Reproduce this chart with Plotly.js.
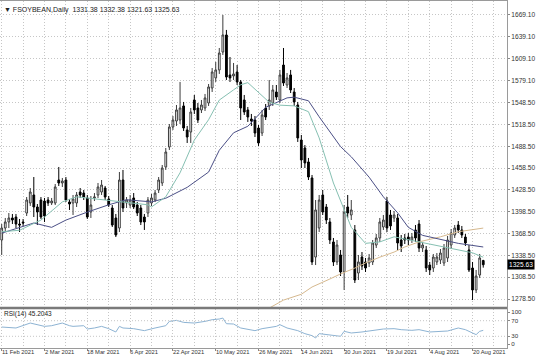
<!DOCTYPE html>
<html>
<head>
<meta charset="utf-8">
<script src="https://cdn.plot.ly/plotly-3.0.1.min.js"></script>
<style>
html,body{margin:0;padding:0;background:#fff;}
#chart{width:536px;height:357px;}
</style>
</head>
<body>
<div id="chart"></div>
<script>
// ---- data (daily bars, 11 Feb 2021 -> late Aug 2021) ----
const openP = [
1359.6,1376.1,1384.4,1389.9,1391.2,1381.6,1384.4,1396.7,1410.5,1421.5,
1405.0,1414.6,1413.2,1414.6,1410.5,1410.5,1442.1,1438.0,1442.1,1411.9,
1410.5,1410.5,1425.6,1424.2,1417.4,1398.1,1417.4,1421.5,1425.6,1431.1,
1416.0,1403.6,1389.9,1376.1,1442.1,1410.5,1407.7,1417.4,1407.7,1403.6,
1391.2,1396.7,1410.5,1414.6,1428.4,1438.0,1460.0,1487.5,1515.0,1523.2,
1524.6,1543.9,1510.9,1508.1,1552.1,1541.1,1538.4,1541.1,1548.0,1568.6,
1582.4,1593.4,1618.1,1641.5,1586.5,1585.1,1590.6,1576.9,1552.1,1538.4,
1526.0,1524.6,1513.6,1506.7,1541.1,1543.9,1548.0,1563.1,1552.1,1600.2,
1572.7,1586.5,1563.1,1545.2,1497.1,1486.1,1466.9,1444.9,1336.2,1376.1,
1421.5,1405.0,1384.4,1356.9,1329.4,1339.0,1315.6,1405.0,1394.0,1373.4,
1314.2,1336.2,1329.4,1328.0,1329.4,1352.7,1362.4,
1377.5,1413.2,1394.0,1389.9,1389.9,1359.6,1362.4,1363.7,1359.6,1373.4,
1381.6,1348.6,1345.9,1325.2,1321.1,1329.4,1332.1,1328.0,
1334.9,1352.7,1366.5,1380.2,1373.4,1363.7,1345.9,1321.1,1290.9,1311.5,1331.38
];
const highP = [
1381.6,1389.9,1396.7,1395.4,1395.4,1388.5,1388.5,1418.7,1431.1,1446.2,
1409.1,1418.7,1417.4,1418.7,1417.4,1436.6,1460.0,1444.9,1446.2,1416.0,
1421.5,1425.6,1431.1,1428.4,1421.5,1420.1,1424.2,1438.0,1442.1,1433.9,
1420.1,1407.7,1395.4,1453.1,1455.9,1418.7,1421.5,1424.2,1411.9,1407.7,
1395.4,1418.7,1422.9,1428.4,1446.2,1462.7,1486.1,1519.1,1530.1,1545.2,
1576.9,1549.4,1516.4,1541.1,1559.0,1548.0,1552.1,1560.4,1574.1,1596.1,
1604.4,1623.6,1669.0,1648.4,1611.2,1603.0,1600.2,1579.6,1559.0,1542.5,
1532.9,1530.1,1517.7,1538.4,1546.6,1579.6,1572.7,1572.7,1593.4,1623.6,
1589.2,1593.4,1568.6,1549.4,1504.0,1490.2,1472.4,1449.0,1414.6,1421.5,
1428.4,1409.1,1389.9,1362.4,1359.6,1345.9,1407.7,1421.5,1414.6,1380.2,
1339.0,1343.1,1334.9,1340.4,1359.6,1367.9,1389.9,
1394.0,1418.7,1400.9,1399.5,1395.4,1366.5,1367.9,1369.2,1369.2,1380.2,
1387.1,1356.9,1351.4,1329.4,1340.4,1341.7,1347.2,1354.1,
1365.1,1374.7,1380.2,1385.7,1378.9,1367.9,1352.7,1329.4,1318.4,1340.4,1332.38
];
const lowP = [
1339.0,1370.6,1376.1,1381.6,1376.1,1370.6,1378.9,1392.6,1406.4,1391.2,
1380.2,1388.5,1384.4,1406.4,1407.7,1407.7,1433.9,1432.5,1411.9,1400.9,
1394.0,1405.0,1417.4,1414.6,1388.5,1389.9,1413.2,1417.4,1421.5,1414.6,
1405.0,1377.5,1363.7,1370.6,1398.1,1403.6,1403.6,1402.2,1392.6,1380.2,
1373.4,1391.2,1406.4,1411.9,1424.2,1433.9,1455.9,1483.4,1510.9,1516.4,
1519.1,1509.5,1493.0,1493.0,1532.9,1520.5,1534.2,1537.0,1543.9,1563.1,
1576.9,1587.9,1614.0,1579.6,1576.9,1579.6,1572.7,1524.6,1531.5,1521.9,
1516.4,1501.2,1488.9,1502.6,1524.6,1538.4,1543.9,1552.1,1548.0,1571.4,
1568.6,1561.7,1543.9,1494.4,1458.6,1458.6,1442.1,1325.2,1325.2,1370.6,
1394.0,1381.6,1354.1,1323.9,1325.2,1310.1,1290.9,1389.9,1387.1,1300.5,
1304.6,1318.4,1315.6,1322.5,1325.2,1348.6,1356.9,
1373.4,1370.6,1373.4,1384.4,1345.9,1343.1,1354.1,1352.7,1355.5,1356.9,
1343.1,1343.1,1315.6,1311.5,1315.6,1325.2,1326.6,1323.9,
1329.4,1347.2,1362.4,1369.2,1362.4,1351.4,1315.6,1277.1,1286.7,1307.4,1321.63
];
const closeP = [
1376.1,1384.4,1389.9,1387.1,1381.6,1380.2,1383.0,1414.6,1425.6,1405.0,
1398.1,1391.2,1392.6,1410.5,1413.2,1432.5,1438.0,1440.7,1414.6,1409.1,
1416.0,1421.5,1421.5,1418.7,1391.2,1407.7,1418.7,1432.5,1435.2,1418.7,
1407.7,1380.2,1366.5,1442.1,1403.6,1414.6,1414.6,1405.0,1396.7,1384.4,
1384.4,1414.6,1417.4,1424.2,1442.1,1458.6,1480.6,1515.0,1524.6,1538.4,
1541.1,1513.6,1501.2,1535.6,1538.4,1524.6,1545.2,1554.9,1570.0,1590.6,
1593.4,1616.7,1641.5,1583.7,1582.4,1587.9,1576.9,1541.1,1535.6,1528.7,
1523.2,1506.7,1493.0,1531.5,1528.7,1552.1,1565.9,1556.2,1586.5,1575.5,
1582.4,1565.9,1549.4,1499.9,1469.6,1465.5,1446.2,1329.4,1400.9,1414.6,
1398.1,1387.1,1359.6,1329.4,1352.7,1315.6,1398.1,1396.7,1400.9,1304.6,
1329.4,1323.9,1321.1,1334.9,1355.5,1362.4,1384.4,
1387.1,1376.1,1378.9,1394.0,1355.5,1351.4,1359.6,1359.6,1363.7,1362.4,
1348.6,1352.7,1321.1,1318.4,1336.2,1336.2,1341.7,1348.6,
1359.6,1369.2,1376.1,1373.4,1366.5,1355.5,1318.4,1290.9,1310.1,1334.9,1325.63
];

// fast moving average (light teal), read at sample bars
const maFastBar = [0,5,11,17,21,28,33,41,42,46,50,54,58,61,65,67,69,72,75,78,82,86,89,93,96,98,102,106,110,114,117,124,128,132,135];
const maFastVal = [1371,1373,1387,1412,1419,1415,1412,1408,1405,1419,1452,1497,1525,1552,1566,1573,1576,1563,1549,1545,1544,1536,1500,1438,1401,1377,1355,1357,1364,1360,1357,1349,1346,1342,1336];
// slower moving average (navy)
const maSlowBar = [0,9,14,18,24,30,35,42,46,52,58,61,65,69,74,80,82,86,89,95,98,103,107,111,114,118,128,135];
const maSlowVal = [1369,1383,1377,1387,1398,1408,1415,1412,1417,1432,1453,1483,1507,1516,1542,1555,1556,1551,1529,1488,1474,1446,1419,1397,1377,1366,1355,1350];
// long moving average (tan)
const maLongBar = [75,79,84,87,92,95,99,102,106,110,113,117,123,128,135];
const maLongVal = [1266,1277,1285,1295,1306,1313,1321,1328,1336,1343,1350,1357,1364,1371,1376];

// RSI(14)
const rsiBar = [0,4,8,10,12,14,16,17,19,20,23,24,26,28,30,32,33,34,37,40,43,46,47,49,51,54,57,59,61,62,63,65,67,70,71,73,75,77,78,80,83,85,87,88,89,92,95,96,98,101,104,107,110,112,115,117,120,122,125,128,130,132,133,134,135];
const rsiVal = [53.8,51.3,64.0,59.8,55.5,57.2,62.3,64.0,57.2,55.5,57.2,48.7,51.3,55.5,49.6,41.1,55.5,51.3,49.6,44.5,51.3,57.2,68.3,70.9,65.7,64.0,68.3,72.6,74.3,76.8,62.3,61.5,51.3,47.0,44.5,49.6,53.0,55.5,59.8,51.3,44.5,36.8,31.7,25.7,36.8,34.3,30.0,42.8,38.5,41.1,45.3,48.7,49.6,47.0,45.3,47.0,41.1,42.8,43.6,51.3,47.0,38.5,34.3,42.8,45.2043];
const rsiLevels = [70, 30];
const rsiScale = [100, 70, 30, 0];

// axis labels
const dateLabels = ['11 Feb 2021','2 Mar 2021','18 Mar 2021','6 Apr 2021','22 Apr 2021','10 May 2021','26 May 2021','14 Jun 2021','30 Jun 2021','19 Jul 2021','4 Aug 2021','20 Aug 2021'];
const barsPerLabel = 12;
const priceTicks = [1669.10,1639.10,1609.10,1579.10,1548.50,1518.50,1488.50,1458.50,1428.50,1398.50,1368.50,1338.50,1308.50,1278.50];
const symbolName = 'FSOYBEAN,Daily';

// ---- build ----
const bars = closeP.map((_, i) => i);
const last = closeP.length - 1;
const labelBars = dateLabels.map((_, k) => k * barsPerLabel);
const midBars = labelBars.map(b => b + barsPerLabel / 2);
const xRange = [-0.477, 141.66];

const FONT = 'Liberation Sans, Arial, sans-serif';
const GRID = '#c6c6c6';
const DOT = '1px,2px';
const FRAME = '#9a9a9a';

const traces = [
  {
    type: 'candlestick', x: bars, open: openP, high: highP, low: lowP, close: closeP,
    xaxis: 'x', yaxis: 'y', whiskerwidth: 0, hoverinfo: 'skip',
    increasing: {line: {color: '#3c3c3c', width: 1}, fillcolor: '#ffffff'},
    decreasing: {line: {color: '#000000', width: 1}, fillcolor: '#000000'}
  },
  {type: 'scatter', mode: 'lines', x: maLongBar, y: maLongVal, xaxis: 'x', yaxis: 'y',
   line: {color: '#d6b98f', width: 1}, hoverinfo: 'skip'},
  {type: 'scatter', mode: 'lines', x: maSlowBar, y: maSlowVal, xaxis: 'x', yaxis: 'y',
   line: {color: '#4b4f86', width: 1}, hoverinfo: 'skip'},
  {type: 'scatter', mode: 'lines', x: maFastBar, y: maFastVal, xaxis: 'x', yaxis: 'y',
   line: {color: '#86c0b2', width: 1}, hoverinfo: 'skip'},
  {type: 'scatter', mode: 'lines', x: rsiBar, y: rsiVal, xaxis: 'x2', yaxis: 'y2',
   line: {color: '#8db3d3', width: 1}, hoverinfo: 'skip'}
];

const H = 357, MT = 1, MB = 9;
const plotH = H - MT - MB;            // 347
const pyPaper = p => (H - MB - p) / plotH; // pixel row -> paper y

const xCommon = {
  range: xRange, showgrid: true, gridcolor: GRID, griddash: DOT, gridwidth: 1,
  tickmode: 'array', tickvals: labelBars, zeroline: false,
  showline: true, mirror: true, linecolor: FRAME, linewidth: 1,
  minor: {tickmode: 'array', tickvals: midBars, showgrid: true, gridcolor: GRID, griddash: DOT, gridwidth: 1, ticks: ''},
  fixedrange: true
};

const dateAnnotations = dateLabels.map((t, k) => ({
  xref: 'x2', yref: 'paper', x: labelBars[k], y: pyPaper(352.5),
  xanchor: 'left', yanchor: 'middle', xshift: -1, text: t, showarrow: false, borderpad: 0,
  font: {family: FONT, size: 5.8, color: '#333'}
}));

const layout = {
  width: 536, height: H,
  margin: {l: 0, r: 29, t: MT, b: MB, pad: 0},
  paper_bgcolor: '#ffffff', plot_bgcolor: '#ffffff',
  showlegend: false,
  font: {family: FONT, size: 6.5, color: '#333'},
  xaxis: Object.assign({}, xCommon, {
    anchor: 'y', domain: [0, 1], showticklabels: false, ticks: '',
    rangeslider: {visible: false}
  }),
  xaxis2: Object.assign({}, xCommon, {
    anchor: 'y2', domain: [0, 1], showticklabels: false,
    ticks: 'outside', ticklen: 2, tickcolor: '#888'
  }),
  yaxis: {
    anchor: 'x', domain: [pyPaper(307), 1], range: [1267.5, 1688.2],
    side: 'right', tickmode: 'array', tickvals: priceTicks,
    ticktext: priceTicks.map(v => v.toFixed(2)),
    showgrid: true, gridcolor: GRID, griddash: DOT, gridwidth: 1,
    ticks: 'outside', ticklen: 2, tickcolor: '#888',
    tickfont: {family: FONT, size: 6.6, color: '#333'},
    showline: true, mirror: true, linecolor: FRAME, zeroline: false, fixedrange: true
  },
  yaxis2: {
    anchor: 'x2', domain: [0, pyPaper(309)], range: [0, 100],
    side: 'right', tickmode: 'array',
    tickvals: rsiScale.map(v => Math.min(92, Math.max(10, v))),
    ticktext: rsiScale.map(String),
    showgrid: false, ticks: 'outside', ticklen: 2, tickcolor: '#888',
    tickfont: {family: FONT, size: 6.2, color: '#333'},
    showline: true, mirror: true, linecolor: FRAME, zeroline: false, fixedrange: true
  },
  shapes: [
    ...rsiLevels.map(v => ({type: 'line', xref: 'paper', x0: 0, x1: 1, yref: 'y2', y0: v, y1: v,
      line: {color: GRID, width: 1, dash: DOT}})),
    {type: 'line', xref: 'paper', x0: 0, x1: 1, yref: 'paper', y0: pyPaper(308), y1: pyPaper(308),
     line: {color: '#7a7a7a', width: 2.5}}
  ],
  annotations: [
    {xref: 'paper', yref: 'paper', x: 0.004, y: pyPaper(10), xanchor: 'left', yanchor: 'middle',
     text: '\u25BC ' + symbolName + '  ' + [openP[last], highP[last], lowP[last], closeP[last]].map(v => v.toFixed(2)).join(' '),
     showarrow: false, font: {family: FONT, size: 7, color: '#222'}},
    {xref: 'paper', yref: 'paper', x: 0.004, y: pyPaper(313.5), xanchor: 'left', yanchor: 'middle',
     text: 'RSI(14) ' + rsiVal[rsiVal.length - 1].toFixed(4),
     showarrow: false, font: {family: FONT, size: 6.5, color: '#222'}},
    {xref: 'paper', yref: 'y', x: 1, y: closeP[last], xanchor: 'left', yanchor: 'middle',
     text: closeP[last].toFixed(2), showarrow: false, bgcolor: '#000000', borderpad: 1,
     font: {family: FONT, size: 6.6, color: '#ffffff'}},
    ...dateAnnotations
  ]
};

Plotly.newPlot('chart', traces, layout, {staticPlot: true, displayModeBar: false});
</script>
</body>
</html>
